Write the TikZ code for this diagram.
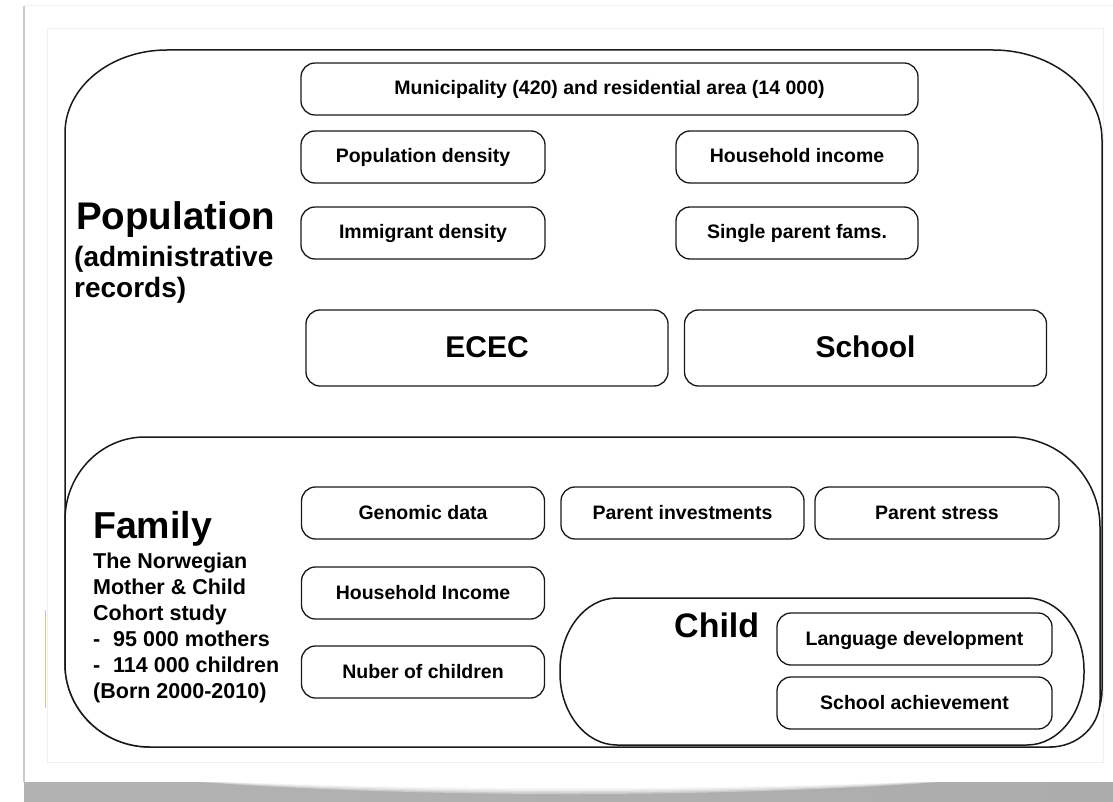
\documentclass[tikz,border=0pt]{standalone}
\usepackage{fontspec}
\setmainfont{Liberation Sans}
\usetikzlibrary{shadings}
\begin{document}
\begin{tikzpicture}[x=1pt,y=-1pt,
  container/.style={draw=black!90, line width=1.5pt},
  box/.style={draw=black!90, line width=1.3pt, rounded corners=14pt, fill=white,
    inner sep=0pt, text height=14pt, text depth=2pt,
    font=\fontsize{19.5}{22}\selectfont\bfseries},
  bigbox/.style={box, text height=21.5pt, text depth=2pt,
    font=\fontsize{30}{34}\selectfont\bfseries},
  label/.style={anchor=base west, inner sep=0pt}
]
\useasboundingbox (0,0) rectangle (1113,802);
\fill[white] (0,0) rectangle (1113,802);

% paper card with its curled shadow
\shade[left color=gray!60, middle color=gray!10, right color=gray!65] (24,782) rectangle (1113,802);
\foreach \d/\o in {0/0.35, 2/0.35, 4/0.45, 6/0.6, 8/1} {
  \fill[white, opacity=\o] (200+\d*4,782) .. controls (420+\d*3,798-\d) and (720-\d*3,798-\d) .. (940-\d*4,782) -- cycle;
}
\draw[gray!40, line width=2pt] (24,6) -- (24,782);
\draw[gray!10, line width=1pt] (24,6) -- (1113,6);
\draw[gray!12, line width=1pt] (47,29) rectangle (1103,762);
\draw[blue!25, line width=0.8pt] (45,610) -- (45,708);

% population container
\draw[container] (65,664) -- (65,133)
  arc[start angle=180, end angle=270, x radius=102, y radius=83] -- (993,50)
  arc[start angle=270, end angle=360, x radius=109, y radius=90] -- (1102,690)
  arc[start angle=0, end angle=90, x radius=55, y radius=57] -- (150,747)
  arc[start angle=90, end angle=180, x radius=85, y radius=83] -- cycle;

\node[label, font=\fontsize{38.5}{44}\selectfont\bfseries] (poptitle) at (76,230) {Population};
\node[label, font=\fontsize{28}{31}\selectfont\bfseries] (popsub1) at (74,267) {(administrative};
\node[label, font=\fontsize{28}{31}\selectfont\bfseries] (popsub2) at (74,298) {records)};

\node[box, minimum width=617pt, minimum height=52pt] (muni) at (609.5,89) {Municipality (420) and residential area (14 000)};
\node[box, minimum width=244pt, minimum height=52pt] (popdens) at (423,157) {Population density};
\node[box, minimum width=242pt, minimum height=52pt] (hhinc) at (797,157) {Household income};
\node[box, minimum width=244pt, minimum height=52pt] (immdens) at (423,233) {Immigrant density};
\node[box, minimum width=242pt, minimum height=52pt] (single) at (797,233) {Single parent fams.};
\node[bigbox, minimum width=362pt, minimum height=76pt] (ecec) at (487,348) {ECEC};
\node[bigbox, minimum width=362pt, minimum height=76pt] (school) at (865.5,348) {School};

% family container
\draw[container, fill=white] (65,664) -- (65,520)
  arc[start angle=180, end angle=270, x radius=80, y radius=83] -- (1010,437)
  arc[start angle=270, end angle=360, x radius=90, y radius=90] -- (1100,700)
  arc[start angle=0, end angle=90, x radius=50, y radius=47] -- (150,747)
  arc[start angle=90, end angle=180, x radius=85, y radius=83] -- cycle;

\node[label, font=\fontsize{37.5}{44}\selectfont\bfseries] (famtitle) at (93,538) {Family};
\begin{scope}[every node/.style={label, font=\fontsize{21.5}{26}\selectfont\bfseries}]
\node (fam1) at (93,568) {The Norwegian};
\node (fam2) at (93,594) {Mother \& Child};
\node (fam3) at (93,620) {Cohort study};
\node (fam4) at (93,646) {\makebox[20pt][l]{-}95 000 mothers};
\node (fam5) at (93,672) {\makebox[20pt][l]{-}114 000 children};
\node (fam6) at (93,698) {(Born 2000-2010)};
\end{scope}

\node[box, minimum width=243pt, minimum height=52pt] (genomic) at (423,513) {Genomic data};
\node[box, minimum width=243pt, minimum height=52pt] (invest) at (682.5,513) {Parent investments};
\node[box, minimum width=244pt, minimum height=52pt] (stress) at (937,513) {Parent stress};
\node[box, minimum width=243pt, minimum height=52pt] (hhinc2) at (423,593) {Household Income};
\node[box, minimum width=243pt, minimum height=52pt] (nchild) at (423,672) {Nuber of children};

% child container
\draw[container, fill=white] (560,673) -- (560,670)
  arc[start angle=180, end angle=270, x radius=57, y radius=72] -- (1027,598)
  arc[start angle=270, end angle=360, x radius=57, y radius=72] -- (1084,673)
  arc[start angle=0, end angle=90, x radius=57, y radius=72] -- (617,745)
  arc[start angle=90, end angle=180, x radius=57, y radius=72] -- cycle;

\node[label, font=\fontsize{34}{40}\selectfont\bfseries] (childtitle) at (674,637) {Child};
\node[box, minimum width=275pt, minimum height=52pt] (lang) at (914.5,639) {Language development};
\node[box, minimum width=275pt, minimum height=52pt] (achieve) at (914.5,703) {School achievement};
\end{tikzpicture}
\end{document}
